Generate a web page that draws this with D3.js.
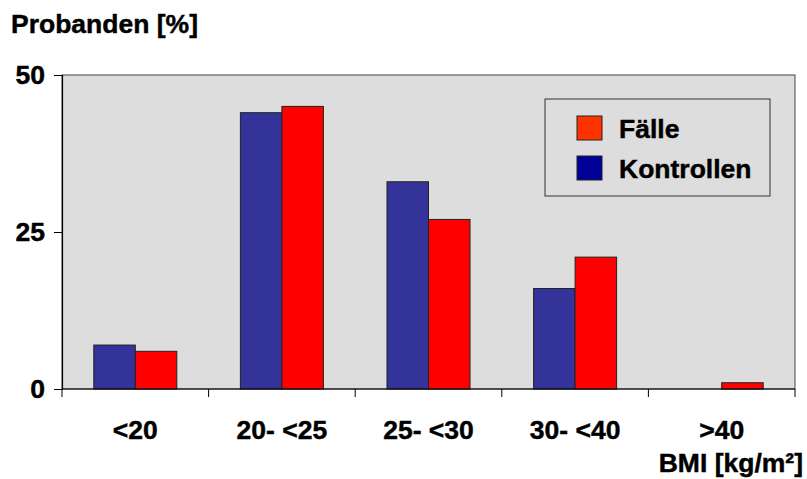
<!DOCTYPE html>
<html>
<head>
<meta charset="utf-8">
<script src="https://cdn.jsdelivr.net/npm/d3@7"></script>
<style>
  html, body { margin: 0; padding: 0; background: #fff; }
  svg text { font-family: "Liberation Sans", Arial, sans-serif; font-weight: bold; fill: #000; stroke: #000; stroke-width: 0.45px; }
</style>
</head>
<body>
<svg id="chart" width="807" height="479"></svg>
<script>
// BMI groups and the share of subjects per group (%)
const categories = ["<20", "20- <25", "25- <30", "30- <40", ">40"];
const kontrollen = [7, 44, 33, 16, 0];
const faelle = [6, 45, 27, 21, 1];
const yTicks = [0, 25, 50];

const series = [
  { name: "Kontrollen", values: kontrollen, color: "#333399" },
  { name: "Fälle", values: faelle, color: "#FF0000" }
];

const svg = d3.select("#chart");
const m = { left: 62, top: 75, right: 795, bottom: 389 };
const FS = 26.5;

const x = d3.scaleBand().domain(categories).range([m.left, m.right]).paddingInner(0).paddingOuter(0);
const inner = d3.scaleBand().domain(series.map(s => s.name)).range([0, x.bandwidth()]).paddingOuter(0.766).paddingInner(0);
const y = d3.scaleLinear().domain([0, 50]).range([m.bottom, m.top]);

// plot area
svg.append("rect")
  .attr("x", m.left).attr("y", m.top)
  .attr("width", m.right - m.left).attr("height", m.bottom - m.top)
  .attr("fill", "#DDDDDD").attr("stroke", "#444").attr("stroke-width", 1);

// bars
series.forEach(s => {
  svg.append("g").selectAll("rect")
    .data(categories.map((c, i) => ({ c, v: s.values[i] })).filter(d => d.v > 0))
    .join("rect")
    .attr("x", d => x(d.c) + inner(s.name))
    .attr("y", d => y(d.v))
    .attr("width", inner.bandwidth())
    .attr("height", d => y(0) - y(d.v))
    .attr("fill", s.color)
    .attr("stroke", "#222").attr("stroke-width", 1);
});

// y axis
const yAxis = svg.append("g")
  .attr("transform", `translate(${m.left},0)`)
  .call(d3.axisLeft(y).tickValues(yTicks).tickSize(8).tickPadding(9).tickFormat(d3.format("d")));
yAxis.select(".domain").attr("stroke", "#000").attr("stroke-width", 1.2);
yAxis.selectAll(".tick line").attr("stroke", "#000");
yAxis.selectAll(".tick text").attr("font-size", FS).style("font-family", "Liberation Sans, Arial, sans-serif").style("font-weight", "bold");

// x axis with ticks at group boundaries
const xAxis = svg.append("g")
  .attr("transform", `translate(0,${m.bottom})`);
xAxis.append("line").attr("x1", m.left).attr("x2", m.right).attr("y1", 0).attr("y2", 0)
  .attr("stroke", "#000").attr("stroke-width", 1.2);
const bounds = categories.map(c => x(c)).concat([m.right]);
xAxis.selectAll("line.tk").data(bounds).join("line").attr("class", "tk")
  .attr("x1", d => d).attr("x2", d => d).attr("y1", 0).attr("y2", 8).attr("stroke", "#000");
xAxis.selectAll("text").data(categories).join("text")
  .attr("x", d => x(d) + x.bandwidth() / 2).attr("y", 50)
  .attr("text-anchor", "middle").attr("font-size", FS).text(d => d);

// titles
svg.append("text").attr("x", 11).attr("y", 33).attr("font-size", FS).text("Probanden [%]");
svg.append("text").attr("x", 803).attr("y", 472).attr("text-anchor", "end").attr("font-size", FS)
  .text("BMI [kg/m²]");

// legend
const lg = svg.append("g");
lg.append("rect").attr("x", 545).attr("y", 99).attr("width", 225).attr("height", 97)
  .attr("fill", "#DDDDDD").attr("stroke", "#333").attr("stroke-width", 1);
const legendItems = [
  { name: "Fälle", color: "#FF3300" },
  { name: "Kontrollen", color: "#000099" }
];
legendItems.forEach((it, i) => {
  lg.append("rect").attr("x", 577).attr("y", 116 + i * 40).attr("width", 25).attr("height", 24)
    .attr("fill", it.color).attr("stroke", "#222");
  lg.append("text").attr("x", 619).attr("y", 138 + i * 40).attr("font-size", FS).text(it.name);
});
</script>
</body>
</html>
